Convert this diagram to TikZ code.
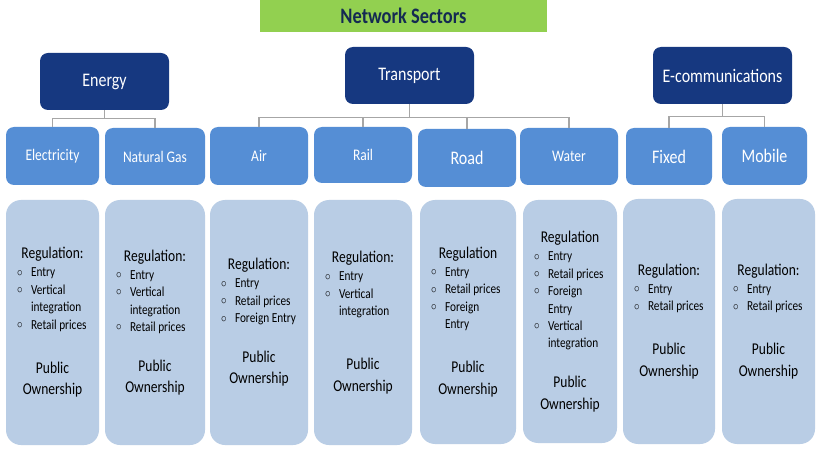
\documentclass[tikz,border=0pt]{standalone}
\usepackage{fontspec}
\setmainfont{Carlito}
\usepackage{graphicx}
\tikzset{every picture/.style={line width=0.75pt}}

\definecolor{titlegreen}{RGB}{146,208,80}
\definecolor{titletext}{RGB}{20,42,82}
\definecolor{sectornavy}{RGB}{22,56,128}
\definecolor{branchblue}{RGB}{85,142,213}
\definecolor{detailblue}{RGB}{185,205,229}
\definecolor{linkgrey}{RGB}{166,166,166}

% text of the slide is a bit taller than wide
\newcommand{\vstretch}[1]{\scalebox{1}[1.2]{#1}}
% one bullet line and its continuation
\newcommand{\ri}[1]{\par\noindent\makebox[14pt][l]{\raisebox{0.5pt}{$\circ$}}#1}
\newcommand{\rc}[1]{\par\noindent\hspace*{14pt}#1}
% [gap]{width}{heading}{bullets}
\newcommand{\regtext}[4][18.5pt]{\scalebox{1}[1.22]{\parbox{#2}{%
  \centering\fontsize{13.5}{15}\selectfont #3\par
  \vspace{0.5pt}\raggedright\fontsize{11.3}{14.3}\selectfont #4\par
  \vspace{#1}\centering\fontsize{13.5}{17.6}\selectfont Public\\Ownership\par}}}

\tikzset{
  headline/.style={fill=titlegreen, text=titletext, inner sep=0pt,
    minimum width=287pt, minimum height=32pt,
    font=\bfseries\fontsize{18.4}{20}\selectfont},
  sector/.style={fill=sectornavy, text=white, rounded corners=8pt, inner sep=0pt,
    minimum height=57pt, font=\fontsize{16}{18}\selectfont},
  branch/.style={fill=branchblue, text=white, rounded corners=8pt, inner sep=0pt,
    minimum height=57pt, font=\fontsize{13.5}{15}\selectfont},
  bigbranch/.style={branch, font=\fontsize{16}{18}\selectfont},
  detail/.style={fill=detailblue, text=black, rounded corners=15pt, inner sep=0pt,
    minimum height=245pt},
  link/.style={draw=linkgrey, line width=1.5pt},
}

\begin{document}
\begin{tikzpicture}[x=1pt,y=-1pt]
    % page
    \fill[white] (0,0) rectangle (816,462);
    \useasboundingbox (0,0) rectangle (816,462);

    % title
    \node[headline] (title) at (403.5,16) {\vstretch{Network Sectors}};

    % sectors
    \node[sector, minimum width=129pt] (energy) at (104.5,81.5) {\vstretch{Energy}};
    \node[sector, minimum width=129pt] (transport) at (409.5,75.5) {\vstretch{Transport}};
    \node[sector, minimum width=139pt] (ecom) at (722.5,75.5) {\vstretch{E-communications}};

    % branches
    \node[branch, minimum width=93pt, minimum height=58pt] (elec) at (52.5,156) {\vstretch{Electricity}};
    \node[branch, minimum width=100pt] (gas) at (155,156.5) {\vstretch{Natural Gas}};
    \node[branch, minimum width=98pt, minimum height=58pt] (air) at (259,156) {\vstretch{Air}};
    \node[branch, minimum width=98pt, minimum height=56pt] (rail) at (363,155) {\vstretch{Rail}};
    \node[bigbranch, minimum width=98pt, minimum height=58pt] (road) at (467,158) {\vstretch{Road}};
    \node[branch, minimum width=98pt] (water) at (569,156.5) {\vstretch{Water}};
    \node[bigbranch, minimum width=86pt] (fixed) at (669,156.5) {\vstretch{Fixed}};
    \node[bigbranch, minimum width=85pt, minimum height=58pt] (mobile) at (764.5,156) {\vstretch{Mobile}};

    % connectors
    \draw[link] (energy.south) -- ++(0,8) coordinate (energyhub);
    \draw[link] (energyhub) -| (elec.north);
    \draw[link] (energyhub) -| (gas.north);
    \draw[link] (transport.south) -- ++(0,13) coordinate (transporthub);
    \foreach \b in {air,rail,road,water}
        \draw[link] (transporthub) -| (\b.north);
    \draw[link] (ecom.south) -- ++(0,12) coordinate (ecomhub);
    \draw[link] (ecomhub) -| (fixed.north);
    \draw[link] (ecomhub) -| (mobile.north);

    % regulation boxes
    \node[detail, minimum width=93pt] (elecreg) at (52.5,322.5) {};
    \node[detail, minimum width=100pt] (gasreg) at (155,322.5) {};
    \node[detail, minimum width=98pt] (airreg) at (259,322.5) {};
    \node[detail, minimum width=98pt] (railreg) at (363,322.5) {};
    \node[detail, minimum width=96pt, minimum height=244pt] (roadreg) at (468,322) {};
    \node[detail, minimum width=94pt, minimum height=243pt] (waterreg) at (570,321.5) {};
    \node[detail, minimum width=92pt] (fixedreg) at (669,321.5) {};
    \node[detail, minimum width=93pt] (mobilereg) at (768.5,321.5) {};

    % regulation texts
    \node[inner sep=0pt] (electext) at (elecreg.center)
        {\regtext{71pt}{Regulation:}{\ri{Entry}\ri{Vertical}\rc{integration}\ri{Retail prices}}};
    \node[inner sep=0pt] (gastext) at (gasreg.center)
        {\regtext[15pt]{78pt}{Regulation:}{\ri{Entry}\ri{Vertical}\rc{integration}\ri{Retail prices}}};
    \node[inner sep=0pt] (airtext) at (airreg.center)
        {\regtext[15pt]{76pt}{Regulation:}{\ri{Entry}\ri{Retail prices}\ri{Foreign Entry}}};
    \node[inner sep=0pt] (railtext) at (railreg.center)
        {\regtext[26.7pt]{76pt}{Regulation:}{\ri{Entry}\ri{Vertical}\rc{integration}}};
    \node[inner sep=0pt] (roadtext) at (roadreg.center)
        {\regtext{74pt}{Regulation}{\ri{Entry}\ri{Retail prices}\ri{Foreign}\rc{Entry}}};
    \node[inner sep=0pt] (watertext) at (waterreg.center)
        {\regtext[15pt]{72pt}{Regulation}{\ri{Entry}\ri{Retail prices}\ri{Foreign}\rc{Entry}\ri{Vertical}\rc{integration}}};
    \node[inner sep=0pt] (fixedtext) at (fixedreg.center)
        {\regtext{70pt}{Regulation:}{\ri{Entry}\ri{Retail prices}}};
    \node[inner sep=0pt] (mobiletext) at (mobilereg.center)
        {\regtext{71pt}{Regulation:}{\ri{Entry}\ri{Retail prices}}};
\end{tikzpicture}
\end{document}
